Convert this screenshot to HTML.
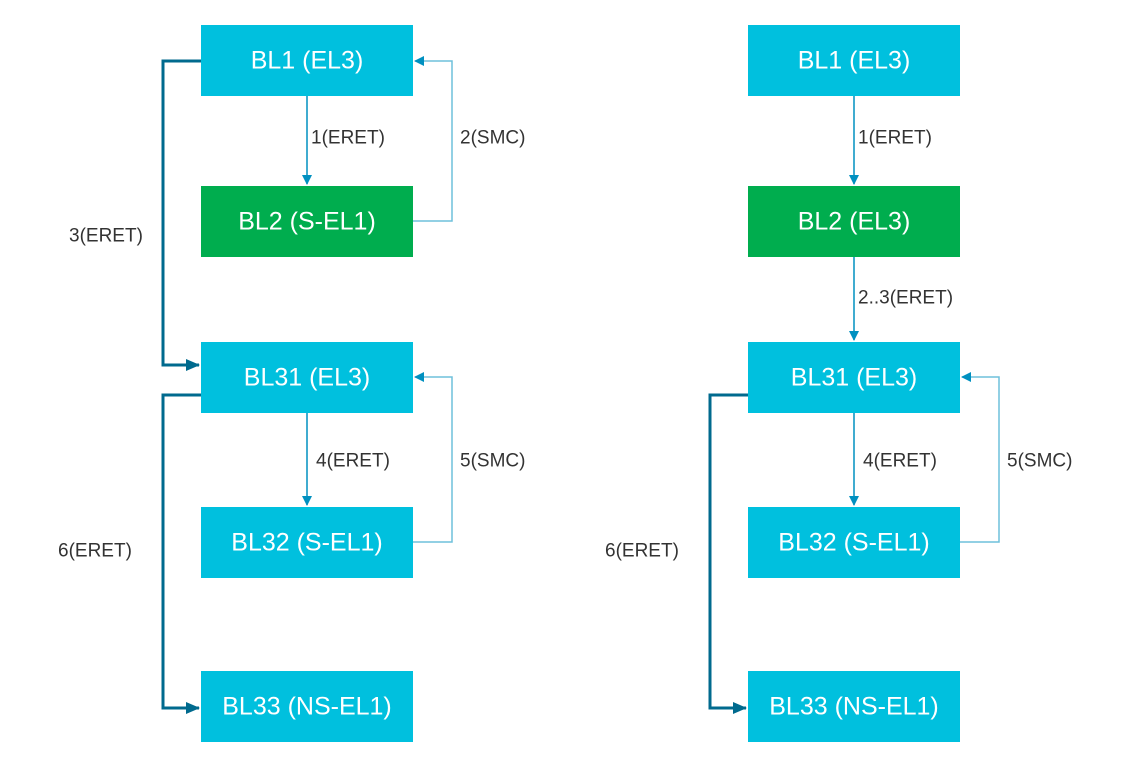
<!DOCTYPE html>
<html><head><meta charset="utf-8"><style>
html,body{margin:0;padding:0;background:#fff;width:1143px;height:776px;overflow:hidden}
svg text{font-family:"Liberation Sans",sans-serif}
.bt{fill:#fff;font-size:25px;text-anchor:middle;dominant-baseline:central}
.lb{fill:#333;font-size:19px;dominant-baseline:central}
</style></head><body>
<svg width="1143" height="776">
<defs>
<marker id="ad" markerWidth="10" markerHeight="10" refX="9" refY="5" orient="auto" markerUnits="userSpaceOnUse"><path d="M0,0 L10,5 L0,10z" fill="#0090c0"/></marker>
<marker id="at" markerWidth="14" markerHeight="12" refX="13" refY="6" orient="auto" markerUnits="userSpaceOnUse"><path d="M0,0 L14,6 L0,12z" fill="#006a8e"/></marker>
</defs>
<g id="g"></g>
</svg>
<script>
const svg=document.querySelector('svg');
const NS='http://www.w3.org/2000/svg';
function mk(tag,attrs,txt){const e=document.createElementNS(NS,tag);for(const k in attrs)e.setAttribute(k,attrs[k]);if(txt)e.textContent=txt;svg.appendChild(e);return e;}
const rowsY=[25,186,342,507,671];
const H=71,W=212;
function col(ox,labels,colors,second){
  const cx=ox+106;
  // thick lines
  if(!second){
    let p=mk('polyline',{points:`${ox},61 ${ox-38},61 ${ox-38},365 ${ox-2},365`,fill:'none',stroke:'#006a8e','stroke-width':3,'marker-end':'url(#at)'});
    
    let t=mk('text',{x:ox-132,y:236,class:'lb'},'3(ERET)');
    
    let q=mk('polyline',{points:`${cx},96 ${cx},184`,fill:'none',stroke:'#0090c0','stroke-width':1.5,'marker-end':'url(#ad)'});
    
    let r=mk('polyline',{points:`${ox+W},221 ${ox+251},221 ${ox+251},61 ${ox+W+2},61`,fill:'none',stroke:'#6ec0dc','stroke-width':1.5,'marker-end':'url(#ad)'});
    
    let s=mk('text',{x:ox+259,y:138,class:'lb'},'2(SMC)');
    
  } else {
    let q=mk('polyline',{points:`${cx},96 ${cx},184`,fill:'none',stroke:'#0090c0','stroke-width':1.5,'marker-end':'url(#ad)'});
    
    let q2=mk('polyline',{points:`${cx},257 ${cx},340`,fill:'none',stroke:'#0090c0','stroke-width':1.5,'marker-end':'url(#ad)'});
    
    let t=mk('text',{x:cx+4,y:298,class:'lb'},'2..3(ERET)');
    
  }
  let l1=mk('text',{x:cx+4,y:138,class:'lb'},'1(ERET)');
  
  let p6=mk('polyline',{points:`${ox},395 ${ox-38},395 ${ox-38},708 ${ox-2},708`,fill:'none',stroke:'#006a8e','stroke-width':3,'marker-end':'url(#at)'});
  
  let t6=mk('text',{x:ox-143,y:551,class:'lb'},'6(ERET)');
  
  let q4=mk('polyline',{points:`${cx},412 ${cx},505`,fill:'none',stroke:'#0090c0','stroke-width':1.5,'marker-end':'url(#ad)'});
  
  let l4=mk('text',{x:cx+9,y:461,class:'lb'},'4(ERET)');
  
  let r5=mk('polyline',{points:`${ox+W},542 ${ox+251},542 ${ox+251},377 ${ox+W+2},377`,fill:'none',stroke:'#6ec0dc','stroke-width':1.5,'marker-end':'url(#ad)'});
  
  let l5=mk('text',{x:ox+259,y:461,class:'lb'},'5(SMC)');
  
  labels.forEach((lab,i)=>{
    const r=mk('rect',{x:ox,y:rowsY[i],width:W,height:H,fill:colors[i]});
    
    
    const t=mk('text',{x:cx,y:rowsY[i]+H/2,class:'bt'},lab);
    
    
  });
}
const C='#00c0de',G='#00ad4e';
col(201,['BL1 (EL3)','BL2 (S-EL1)','BL31 (EL3)','BL32 (S-EL1)','BL33 (NS-EL1)'],[C,G,C,C,C],false);
col(748,['BL1 (EL3)','BL2 (EL3)','BL31 (EL3)','BL32 (S-EL1)','BL33 (NS-EL1)'],[C,G,C,C,C],true);
</script>
</body></html>
